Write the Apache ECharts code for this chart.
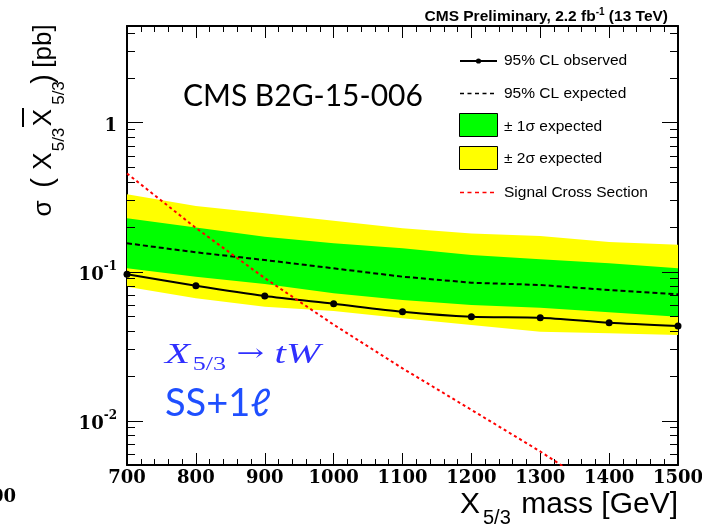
<!DOCTYPE html>
<html><head><meta charset="utf-8">
<script src="https://cdn.jsdelivr.net/npm/echarts@6/dist/echarts.min.js"></script>
<style>html,body{margin:0;padding:0;background:#fff}#c{width:702px;height:529px}</style>
</head><body><div id="c"></div>
<script>
// ---- data ----
const mass = [700, 800, 900, 1000, 1100, 1200, 1300, 1400, 1500];
const observed = [0.0958, 0.0803, 0.0685, 0.0608, 0.0537, 0.0497, 0.0490, 0.0453, 0.0431];
const expected = [0.1546, 0.1345, 0.1194, 0.1050, 0.0923, 0.0841, 0.0812, 0.0751, 0.0703];
const oneSigmaLow = [0.1050, 0.0923, 0.0824, 0.0714, 0.0644, 0.0596, 0.0572, 0.0532, 0.0497];
const oneSigmaHigh = [0.2275, 0.1970, 0.1710, 0.1546, 0.1430, 0.1290, 0.1210, 0.1135, 0.1050];
const twoSigmaLow = [0.0791, 0.0661, 0.0580, 0.0543, 0.0485, 0.0437, 0.0394, 0.0385, 0.0375];
const twoSigmaHigh = [0.330, 0.275, 0.246, 0.219, 0.195, 0.180, 0.173, 0.158, 0.151];
const signalXsec = [0.455, 0.196, 0.0903, 0.0440, 0.0224, 0.0118, 0.0062, 0.0031, 0.0016];
const xTickStep = 100;
const legendLabels = ['95% CL observed', '95% CL expected', '\u00b1 1\u03c3 expected', '\u00b1 2\u03c3 expected', 'Signal Cross Section'];

const xMin = 700, xMax = 1500, yMin = 0.00503, yMax = 4.44;

const chart = echarts.init(document.getElementById('c'), null, {renderer: 'canvas'});

function band(name, lo, hi, color) {
  return {
    type: 'custom', name: name, z: 1, silent: true,
    data: mass.map((m, i) => [m, lo[i], hi[i]]),
    encode: {x: 0, y: [1, 2]},
    renderItem: function (params, api) {
      if (params.dataIndex !== 0) return null;
      const pts = [];
      for (let i = 0; i < mass.length; i++) pts.push(api.coord([mass[i], hi[i]]));
      for (let i = mass.length - 1; i >= 0; i--) pts.push(api.coord([mass[i], lo[i]]));
      return {type: 'polygon', shape: {points: pts}, style: {fill: color, stroke: null}};
    }
  };
}

// log-axis tick positions (decade majors + 2..9 minors)
const yTicks = [];
for (let e = -3; e <= 1; e++) {
  for (let k = 1; k <= 9; k++) {
    const v = k * Math.pow(10, e);
    if (v >= yMin && v <= yMax) yTicks.push([xMin, v, k === 1 ? 1 : 0]);
  }
}

const sans = 'Liberation Sans';
function rtext(t, x, y, size) {
  return {type: 'text', x: x, y: y, rotation: Math.PI / 2,
    style: {text: t, fontFamily: sans, fontSize: size, fill: '#000', align: 'center', verticalAlign: 'middle'}};
}

const option = {
  animation: false,
  backgroundColor: '#fff',
  grid: {left: 127, right: 24, top: 26, bottom: 64, containLabel: false, outerBoundsMode: 'none'},
  xAxis: [{
    type: 'value', min: xMin, max: xMax, interval: xTickStep,
    axisLine: {show: true, onZero: false, lineStyle: {color: '#000', width: 2}},
    axisTick: {show: true, inside: true, length: 12, lineStyle: {color: '#000', width: 1}},
    minorTick: {show: true, splitNumber: 5, length: 6, lineStyle: {color: '#000', width: 1}},
    splitLine: {show: false},
    axisLabel: {fontFamily: 'DejaVu Serif', fontWeight: 'bold', fontSize: 18, color: '#000', margin: 4,
      formatter: function (v) { return String(v); }}
  }, {
    type: 'value', position: 'top', min: xMin, max: xMax, interval: xTickStep,
    axisLine: {show: true, onZero: false, lineStyle: {color: '#000', width: 2}},
    axisTick: {show: true, inside: true, length: 12, lineStyle: {color: '#000', width: 1}},
    minorTick: {show: true, splitNumber: 5, length: 6, lineStyle: {color: '#000', width: 1}},
    splitLine: {show: false},
    axisLabel: {show: false}
  }],
  yAxis: [{
    type: 'log', logBase: 10, min: yMin, max: yMax,
    axisLine: {show: true, onZero: false, lineStyle: {color: '#000', width: 2}},
    axisTick: {show: false},
    splitLine: {show: false},
    axisLabel: {
      margin: 10, showMinLabel: false, showMaxLabel: false,
      padding: [7, 0, 0, 0],
      formatter: function (v) {
        const l = Math.log10(v);
        if (Math.abs(l - Math.round(l)) > 1e-6) return '';
        const e = Math.round(l);
        if (e === 0) return '{b|1}';
        return '{b|10}{s|' + e + '}';
      },
      rich: {
        b: {fontFamily: 'DejaVu Serif', fontWeight: 'bold', fontSize: 18, color: '#000'},
        s: {fontFamily: 'DejaVu Serif', fontWeight: 'bold', fontSize: 12, color: '#000', padding: [0, 0, 16, 0]}
      }
    }
  }, {
    type: 'log', logBase: 10, min: yMin, max: yMax, position: 'right',
    axisLine: {show: true, onZero: false, lineStyle: {color: '#000', width: 2}},
    axisTick: {show: false}, splitLine: {show: false}, axisLabel: {show: false}
  }],
  series: [
    band('2sigma', twoSigmaLow, twoSigmaHigh, '#ffff00'),
    band('1sigma', oneSigmaLow, oneSigmaHigh, '#00ff00'),
    {
      type: 'line', name: 'expected', z: 3, symbol: 'none',
      data: mass.map((m, i) => [m, expected[i]]),
      lineStyle: {color: '#000', width: 2, type: [5, 3]}
    },
    {
      type: 'line', name: 'observed', z: 4, symbol: 'circle', symbolSize: 7, smooth: 0.25,
      data: mass.map((m, i) => [m, observed[i]]),
      itemStyle: {color: '#000'},
      lineStyle: {color: '#000', width: 2}
    },
    {
      type: 'line', name: 'signal', z: 5, symbol: 'none', clip: true,
      data: mass.map((m, i) => [m, signalXsec[i]]),
      lineStyle: {color: '#ff0000', width: 2, type: [3, 3]}
    },
    {
      type: 'custom', name: 'yticks', z: 6, silent: true,
      data: yTicks, encode: {x: 0, y: 1},
      renderItem: function (params, api) {
        const v = api.value(1), major = api.value(2);
        const pl = api.coord([xMin, v]), pr = api.coord([xMax, v]);
        const L = major ? 16 : 8;
        const y = Math.round(pl[1]) + 0.5;
        return {type: 'group', children: [
          {type: 'line', shape: {x1: pl[0], y1: y, x2: pl[0] + L, y2: y}, style: {stroke: '#000', lineWidth: 1}},
          {type: 'line', shape: {x1: pr[0] - L, y1: y, x2: pr[0], y2: y}, style: {stroke: '#000', lineWidth: 1}}
        ]};
      }
    }
  ],
  graphic: [
    // header
    {type: 'text', x: 668, y: 17, style: {
      text: '{n|CMS Preliminary, 2.2 fb}{s|-1}{n| (13 TeV)}', align: 'right', verticalAlign: 'middle',
      rich: {
        n: {fontFamily: sans, fontWeight: 'bold', fontSize: 15.5, fill: '#000'},
        s: {fontFamily: sans, fontWeight: 'bold', fontSize: 10, fill: '#000', padding: [0, 0, 9, 0]}
      }}},
    // CMS label
    {type: 'text', x: 183, y: 96, style: {text: 'CMS B2G-15-006', fontFamily: 'Lato', fontSize: 30, fill: '#000', align: 'left', verticalAlign: 'middle'}},
    // legend
    {type: 'line', shape: {x1: 460, y1: 61, x2: 497, y2: 61}, style: {stroke: '#000', lineWidth: 2}},
    {type: 'circle', shape: {cx: 478.5, cy: 61, r: 2.6}, style: {fill: '#000'}},
    {type: 'line', shape: {x1: 460, y1: 93.5, x2: 497, y2: 93.5}, style: {stroke: '#000', lineWidth: 1.6, lineDash: [4, 3.5]}},
    {type: 'rect', shape: {x: 459.5, y: 113.5, width: 38, height: 23}, style: {fill: '#00ff00', stroke: '#000', lineWidth: 1}},
    {type: 'rect', shape: {x: 459.5, y: 146.5, width: 38, height: 23}, style: {fill: '#ffff00', stroke: '#000', lineWidth: 1}},
    {type: 'line', shape: {x1: 460, y1: 192.5, x2: 497, y2: 192.5}, style: {stroke: '#ff0000', lineWidth: 1.6, lineDash: [4, 3.5]}},
    {type: 'text', x: 504, y: 61, style: {text: legendLabels[0], fontFamily: sans, fontSize: 15.5, fill: '#000', verticalAlign: 'middle'}},
    {type: 'text', x: 504, y: 93.5, style: {text: legendLabels[1], fontFamily: sans, fontSize: 15.5, fill: '#000', verticalAlign: 'middle'}},
    {type: 'text', x: 504, y: 126.5, style: {text: legendLabels[2], fontFamily: sans, fontSize: 15.5, fill: '#000', verticalAlign: 'middle'}},
    {type: 'text', x: 504, y: 159, style: {text: legendLabels[3], fontFamily: sans, fontSize: 15.5, fill: '#000', verticalAlign: 'middle'}},
    {type: 'text', x: 504, y: 192.5, style: {text: legendLabels[4], fontFamily: sans, fontSize: 15.5, fill: '#000', verticalAlign: 'middle'}},
    // blue annotations
    {type: 'text', x: 165, y: 355, scaleX: 1.37, style: {
      text: '{i|X}{s|5/3}{r| \u2192 }{i|tW}', align: 'left', verticalAlign: 'middle',
      rich: {
        i: {fontFamily: 'Liberation Serif', fontStyle: 'italic', fontSize: 30, fill: '#3030ff'},
        s: {fontFamily: 'Liberation Serif', fontSize: 19, fill: '#3030ff', padding: [21, 0, 0, 2]},
        r: {fontFamily: 'DejaVu Serif', fontSize: 24, fill: '#3030ff'}
      }}},
    {type: 'text', x: 165, y: 404, style: {text: 'SS+1\u2113', fontFamily: 'Lato', fontSize: 38, fill: '#1f4fff', align: 'left', verticalAlign: 'middle'}},
    // x title
    {type: 'text', x: 460, y: 505, style: {text: 'X', fontFamily: sans, fontSize: 30, fill: '#000', align: 'left', verticalAlign: 'middle'}},
    {type: 'text', x: 483, y: 518, style: {text: '5/3', fontFamily: sans, fontSize: 20, fill: '#000', align: 'left', verticalAlign: 'middle'}},
    {type: 'text', x: 678, y: 505, style: {text: 'mass [GeV]', fontFamily: sans, fontSize: 30, fill: '#000', align: 'right', verticalAlign: 'middle'}},
    // y title (rotated pieces)
    rtext('\u03c3', 44, 208.5, 26),
    rtext('(', 44, 183, 29),
    rtext('X', 44, 161, 26),
    rtext('5/3', 59.5, 139.5, 17),
    rtext('X', 44, 117.5, 26),
    rtext('5/3', 59.5, 93, 17),
    rtext(')', 44, 79, 29),
    rtext('[pb]', 44, 46, 26),
    {type: 'line', shape: {x1: 23, y1: 108, x2: 23, y2: 127}, style: {stroke: '#000', lineWidth: 2}},
    // clipped stray label at the left edge
    {type: 'text', x: 16, y: 497, style: {text: '1500', fontFamily: 'DejaVu Serif', fontWeight: 'bold', fontSize: 18, fill: '#000', align: 'right', verticalAlign: 'middle'}}
  ]
};
chart.setOption(option);
</script>
</body></html>
